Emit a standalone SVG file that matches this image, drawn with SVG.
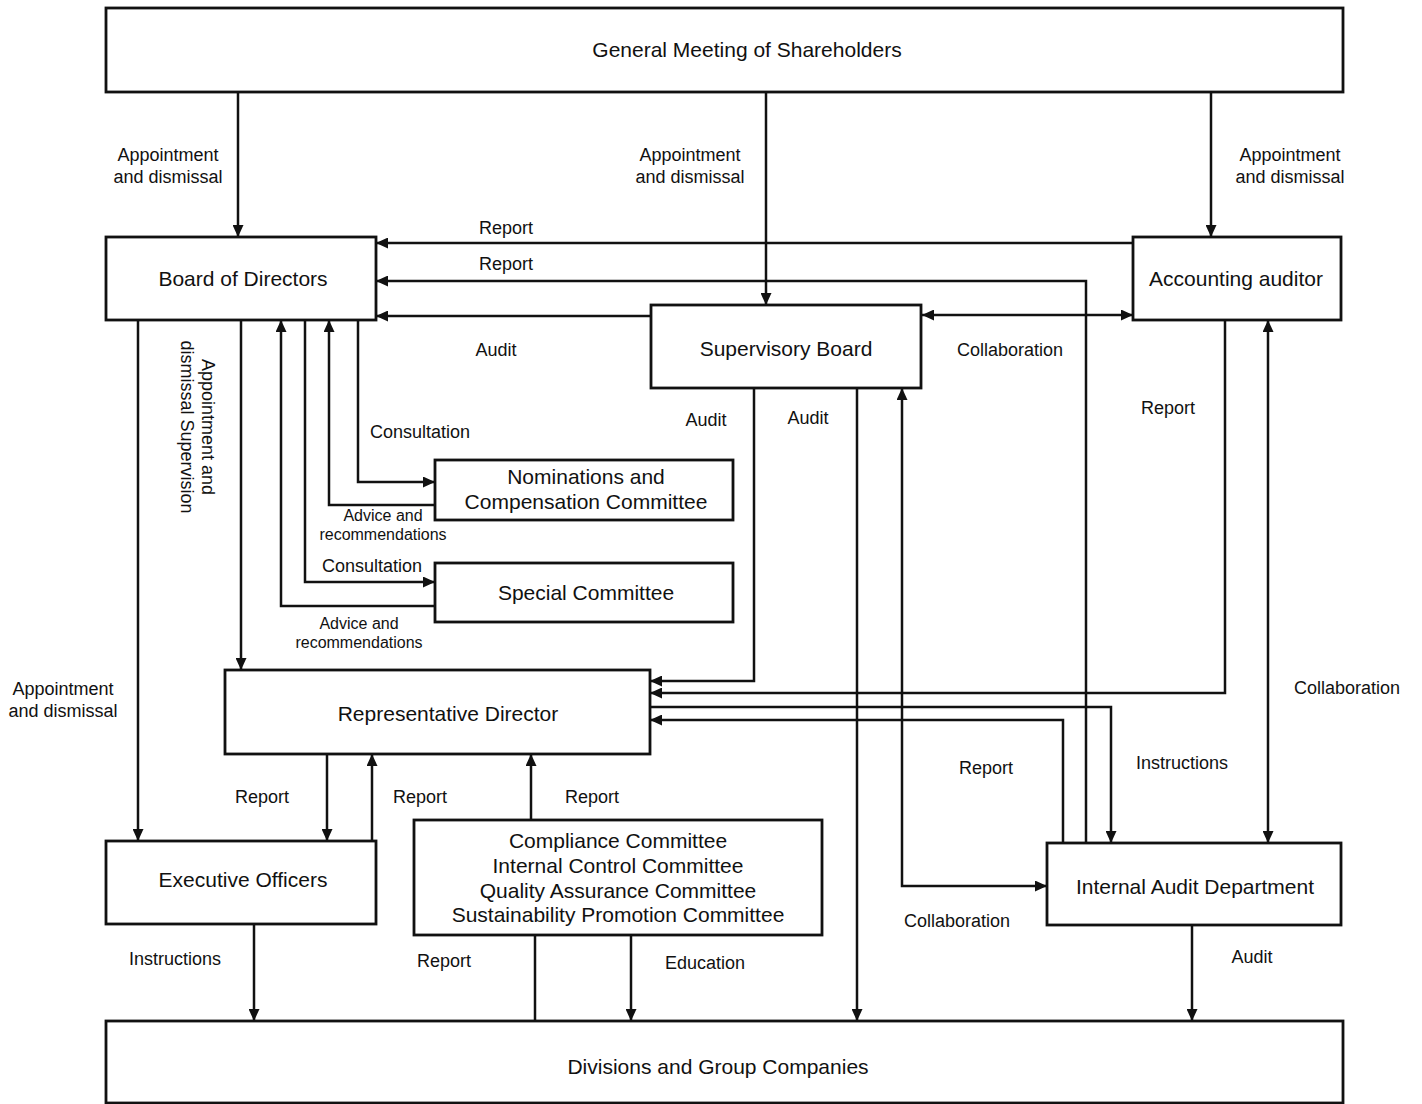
<svg xmlns="http://www.w3.org/2000/svg" width="1422" height="1104" viewBox="0 0 1422 1104">
<style>
.box{fill:#fff;stroke:#111;stroke-width:2.8}
.nt{font-family:"Liberation Sans",Arial,sans-serif;font-size:21px;fill:#111;text-anchor:middle}
.lb{font-family:"Liberation Sans",Arial,sans-serif;font-size:18px;fill:#111;text-anchor:middle}
.sm{font-family:"Liberation Sans",Arial,sans-serif;font-size:16px;fill:#111;text-anchor:middle}
.c{fill:none;stroke:#111;stroke-width:2.5}
.a{marker-end:url(#ah)}
.b{marker-start:url(#ah);marker-end:url(#ah)}
</style>
<defs>
<marker id="ah" markerUnits="userSpaceOnUse" markerWidth="12" markerHeight="11" refX="12" refY="5.5" orient="auto-start-reverse">
<path d="M0,0 L12,5.5 L0,11 z" fill="#111"/>
</marker>
</defs>
<rect width="1422" height="1104" fill="#fff"/>
<g id="connectors">
<path class="c a" d="M238,92 V237"/>
<path class="c a" d="M766,92 V305"/>
<path class="c a" d="M1211,92 V237"/>
<path class="c a" d="M1133,243 H376"/>
<path class="c a" d="M1086,843 V281 H376"/>
<path class="c a" d="M651,316 H376"/>
<path class="c b" d="M922,315 H1133"/>
<path class="c a" d="M138,320 V841"/>
<path class="c a" d="M241,320 V670"/>
<path class="c a" d="M435,606 H281 V320"/>
<path class="c a" d="M305,320 V582 H435"/>
<path class="c a" d="M435,505 H329 V320"/>
<path class="c a" d="M358,320 V482 H435"/>
<path class="c a" d="M754,388 V681 H650"/>
<path class="c a" d="M857,388 V1021"/>
<path class="c b" d="M902,388 V886 H1047"/>
<path class="c a" d="M1225,320 V693 H650"/>
<path class="c b" d="M1268,320 V843"/>
<path class="c a" d="M650,707 H1111 V843"/>
<path class="c a" d="M1063,843 V720 H650"/>
<path class="c a" d="M327,754 V841"/>
<path class="c a" d="M372,841 V754"/>
<path class="c a" d="M531,820 V754"/>
<path class="c a" d="M254,924 V1021"/>
<path class="c" d="M535,935 V1021"/>
<path class="c a" d="M631,935 V1021"/>
<path class="c a" d="M1192,925 V1021"/>
</g>
<g id="labels">
<text class="lb" x="168" y="161">Appointment</text>
<text class="lb" x="168" y="183">and dismissal</text>
<text class="lb" x="690" y="161">Appointment</text>
<text class="lb" x="690" y="183">and dismissal</text>
<text class="lb" x="1290" y="161">Appointment</text>
<text class="lb" x="1290" y="183">and dismissal</text>
<text class="lb" x="506" y="234">Report</text>
<text class="lb" x="506" y="270">Report</text>
<text class="lb" x="496" y="356">Audit</text>
<text class="lb" x="1010" y="356">Collaboration</text>
<text class="lb" x="706" y="426">Audit</text>
<text class="lb" x="808" y="424">Audit</text>
<text class="lb" x="1168" y="414">Report</text>
<text class="lb" x="420" y="438">Consultation</text>
<text class="sm" x="383" y="521">Advice and</text>
<text class="sm" x="383" y="540">recommendations</text>
<text class="lb" x="372" y="572">Consultation</text>
<text class="sm" x="359" y="629">Advice and</text>
<text class="sm" x="359" y="648">recommendations</text>
<text class="lb" transform="translate(202,427) rotate(90)"><tspan x="0" y="0">Appointment and</tspan><tspan x="0" y="21">dismissal Supervision</tspan></text>
<text class="lb" x="63" y="695">Appointment</text>
<text class="lb" x="63" y="717">and dismissal</text>
<text class="lb" x="1347" y="694">Collaboration</text>
<text class="lb" x="986" y="774">Report</text>
<text class="lb" x="1182" y="769">Instructions</text>
<text class="lb" x="262" y="803">Report</text>
<text class="lb" x="420" y="803">Report</text>
<text class="lb" x="592" y="803">Report</text>
<text class="lb" x="957" y="927">Collaboration</text>
<text class="lb" x="175" y="965">Instructions</text>
<text class="lb" x="444" y="967">Report</text>
<text class="lb" x="705" y="969">Education</text>
<text class="lb" x="1252" y="963">Audit</text>
</g>
<g id="gm"><rect class="box" x="106" y="8" width="1237" height="84"/><text class="nt" x="747" y="57">General Meeting of Shareholders</text></g>
<g id="board"><rect class="box" x="106" y="237" width="270" height="83"/><text class="nt" x="243" y="286">Board of Directors</text></g>
<g id="auditor"><rect class="box" x="1133" y="237" width="208" height="83"/><text class="nt" x="1236" y="286">Accounting auditor</text></g>
<g id="supervisory"><rect class="box" x="651" y="305" width="270" height="83"/><text class="nt" x="786" y="356">Supervisory Board</text></g>
<g id="ncc"><rect class="box" x="435" y="460" width="298" height="60"/><text class="nt" x="586" y="484">Nominations and</text><text class="nt" x="586" y="509">Compensation Committee</text></g>
<g id="special"><rect class="box" x="435" y="563" width="298" height="59"/><text class="nt" x="586" y="600">Special Committee</text></g>
<g id="rep"><rect class="box" x="225" y="670" width="425" height="84"/><text class="nt" x="448" y="721">Representative Director</text></g>
<g id="exec"><rect class="box" x="106" y="841" width="270" height="83"/><text class="nt" x="243" y="887">Executive Officers</text></g>
<g id="committees"><rect class="box" x="414" y="820" width="408" height="115"/><text class="nt" x="618" y="848">Compliance Committee</text><text class="nt" x="618" y="873">Internal Control Committee</text><text class="nt" x="618" y="898">Quality Assurance Committee</text><text class="nt" x="618" y="922">Sustainability Promotion Committee</text></g>
<g id="internal"><rect class="box" x="1047" y="843" width="294" height="82"/><text class="nt" x="1195" y="894">Internal Audit Department</text></g>
<g id="divisions"><rect class="box" x="106" y="1021" width="1237" height="82"/><text class="nt" x="718" y="1074">Divisions and Group Companies</text></g>
</svg>
